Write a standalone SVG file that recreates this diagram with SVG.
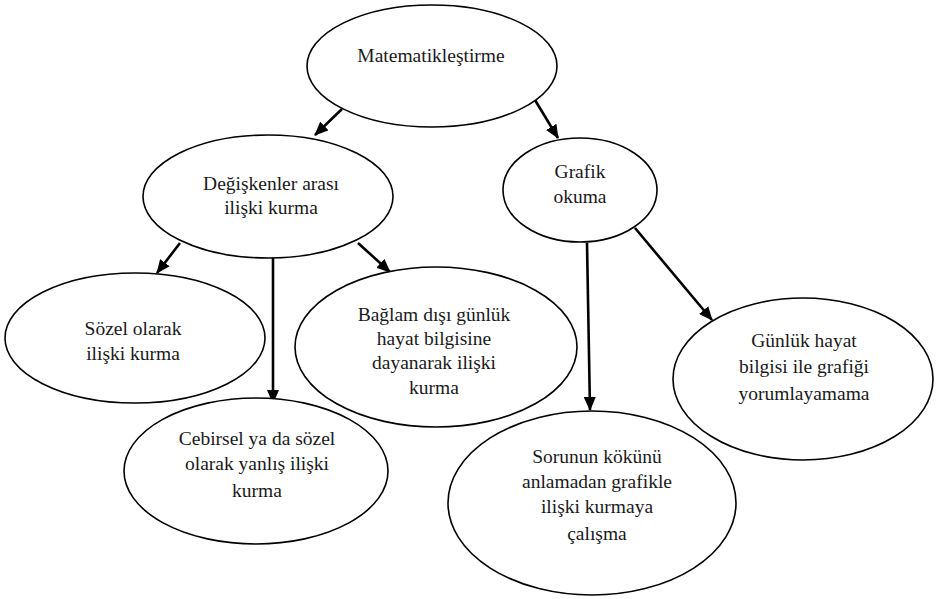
<svg xmlns="http://www.w3.org/2000/svg" width="936" height="599" viewBox="0 0 936 599">
<style>
.node ellipse{fill:#fff;stroke:#000;stroke-width:1.6}
.node text{font-family:'Liberation Serif','Times New Roman','DejaVu Serif',serif;font-size:19.5px;fill:#1a1a1a;text-anchor:middle}
.edge{stroke:#000;stroke-width:2.6;fill:none;marker-end:url(#ah)}
</style>
<defs>
<marker id="ah" markerUnits="userSpaceOnUse" markerWidth="14" markerHeight="12" refX="13" refY="6" orient="auto">
<path d="M0,0 L14,6 L0,12 z" fill="#000"/>
</marker>
</defs>
<rect width="936" height="599" fill="#fff"/>
<g id="connectors">
<line class="edge" x1="342" y1="109" x2="315" y2="135"/>
<line class="edge" x1="535" y1="100" x2="558" y2="138"/>
<line class="edge" x1="180" y1="243" x2="157" y2="273"/>
<line class="edge" x1="273" y1="257" x2="273" y2="403"/>
<line class="edge" x1="358" y1="243" x2="390" y2="272"/>
<line class="edge" x1="587" y1="243" x2="590" y2="410"/>
<line class="edge" x1="635" y1="228" x2="712" y2="320"/>
</g>
<g font-family="Liberation Serif, Times New Roman, serif">
<g id="n-matematiklestirme" class="node">
<ellipse cx="432" cy="66" rx="125" ry="61"/>
<text x="431" y="62">Matematikleştirme</text>
</g>
<g id="n-degiskenler" class="node">
<ellipse cx="268" cy="196.5" rx="125" ry="61.5"/>
<text x="271" y="190">Değişkenler arası</text>
<text x="271" y="214">ilişki kurma</text>
</g>
<g id="n-grafik" class="node">
<ellipse cx="580" cy="190" rx="77" ry="52"/>
<text x="580" y="178">Grafik</text>
<text x="580" y="203">okuma</text>
</g>
<g id="n-sozel" class="node">
<ellipse cx="135" cy="338" rx="130" ry="65"/>
<text x="133" y="335">Sözel olarak</text>
<text x="133" y="360">ilişki kurma</text>
</g>
<g id="n-baglam" class="node">
<ellipse cx="436" cy="347" rx="141" ry="80"/>
<text x="434" y="321">Bağlam dışı günlük</text>
<text x="434" y="345">hayat bilgisine</text>
<text x="434" y="369">dayanarak ilişki</text>
<text x="434" y="394">kurma</text>
</g>
<g id="n-cebirsel" class="node">
<ellipse cx="256" cy="471" rx="132" ry="73"/>
<text x="257" y="445">Cebirsel ya da sözel</text>
<text x="257" y="470">olarak yanlış ilişki</text>
<text x="257" y="497">kurma</text>
</g>
<g id="n-gunluk" class="node">
<ellipse cx="803" cy="379" rx="130" ry="81"/>
<text x="804" y="347">Günlük hayat</text>
<text x="804" y="373">bilgisi ile grafiği</text>
<text x="804" y="400">yorumlayamama</text>
</g>
<g id="n-sorunun" class="node">
<ellipse cx="592" cy="503" rx="144" ry="92"/>
<text x="597" y="463">Sorunun kökünü</text>
<text x="597" y="488">anlamadan grafikle</text>
<text x="597" y="513">ilişki kurmaya</text>
<text x="597" y="540">çalışma</text>
</g>
</g>
</svg>
